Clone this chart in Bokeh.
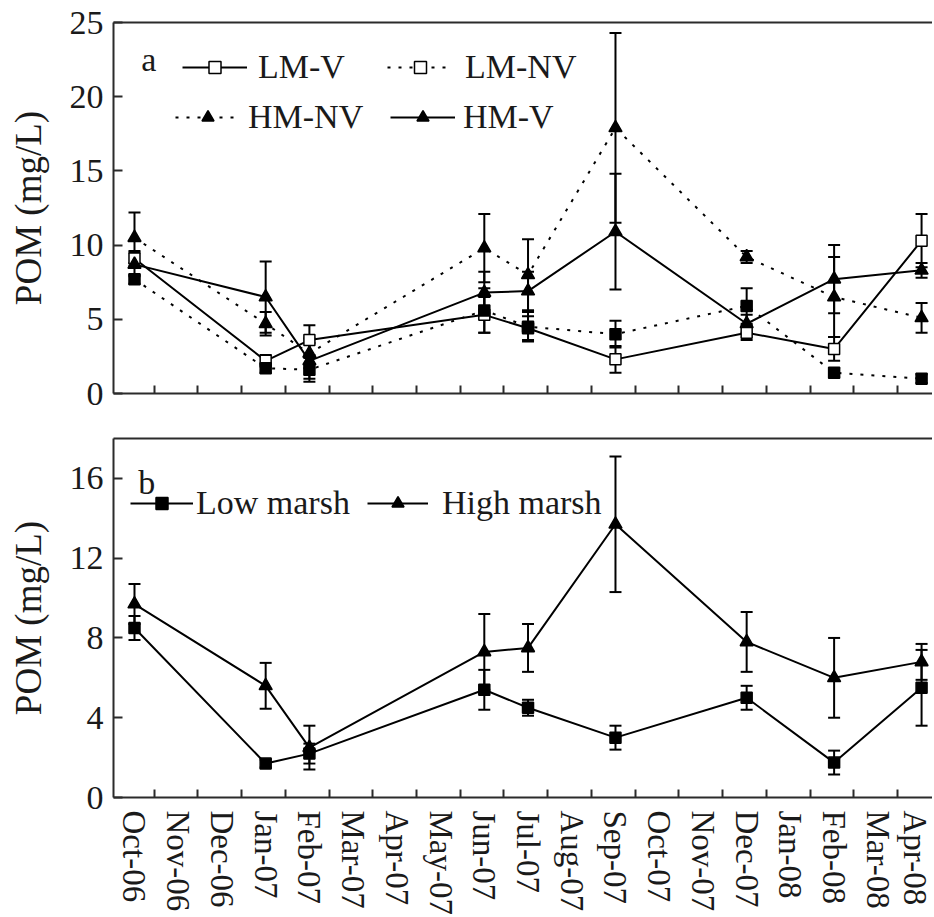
from bokeh.plotting import figure
from bokeh.models import (ColumnDataSource, Whisker, TeeHead, FixedTicker, Range1d,
                          LinearAxis, Legend, LegendItem, Label)
from bokeh.layouts import column
from bokeh.embed import file_html
from bokeh.resources import INLINE

months = ["Oct-06", "Nov-06", "Dec-06", "Jan-07", "Feb-07", "Mar-07", "Apr-07",
          "May-07", "Jun-07", "Jul-07", "Aug-07", "Sep-07", "Oct-07", "Nov-07",
          "Dec-07", "Jan-08", "Feb-08", "Mar-08", "Apr-08"]
sample_months = ["Oct-06", "Jan-07", "Feb-07", "Jun-07", "Jul-07", "Sep-07",
                 "Dec-07", "Feb-08", "Apr-08"]

# Panel a
lm_v = [9.1, 2.2, 3.6, 5.3, 4.4, 2.3, 4.1, 3.0, 10.3]
lm_v_err = [0.5, 0.4, 1.0, 1.2, 0.8, 0.9, 0.5, 0.8, 1.8]
lm_nv = [7.7, 1.7, 1.6, 5.6, 4.5, 4.0, 5.9, 1.4, 1.0]
lm_nv_err = [0.3, 0.3, 0.8, 1.5, 1.0, 0.9, 1.2, 0.3, 0.3]
hm_nv = [10.5, 4.7, 2.7, 9.8, 8.0, 17.9, 9.2, 6.5, 5.1]
hm_nv_err = [1.7, 0.8, 1.0, 2.3, 2.4, 6.4, 0.4, 2.7, 1.0]
hm_v = [8.7, 6.5, 2.2, 6.8, 6.9, 10.9, 4.7, 7.7, 8.3]
hm_v_err = [0.8, 2.4, 1.2, 1.4, 1.3, 3.9, 0.6, 2.3, 0.5]

# Panel b
low = [8.5, 1.7, 2.2, 5.4, 4.5, 3.0, 5.0, 1.75, 5.5]
low_err = [0.6, 0.2, 0.5, 1.0, 0.4, 0.6, 0.6, 0.6, 1.9]
high = [9.7, 5.6, 2.5, 7.3, 7.5, 13.7, 7.8, 6.0, 6.8]
high_err = [1.0, 1.15, 1.1, 1.9, 1.2, 3.4, 1.5, 2.0, 0.9]

yticks_a = [0, 5, 10, 15, 20, 25]
yticks_b = [0, 4, 8, 12, 16]

FONT = "Liberation Serif"
AX = "#2b2b2b"
TXT = "#1a1a1a"
xs = [months.index(m) for m in sample_months]
boundaries = [i + 0.45 for i in range(-1, len(months))]


def make_fig(height, ymax, yticks, top, bottom, show_labels):
    p = figure(width=932, height=height, output_backend="svg", toolbar_location=None,
               x_range=Range1d(-0.48, 18.25), y_range=Range1d(0, ymax),
               min_border_left=113, min_border_right=0, min_border_top=top,
               min_border_bottom=bottom, background_fill_color="white",
               border_fill_color="white")
    p.outline_line_color = None
    p.xgrid.visible = False
    p.ygrid.visible = False
    xa = p.xaxis[0]
    if show_labels:
        xa.ticker = FixedTicker(ticks=list(range(len(months))), minor_ticks=boundaries)
        xa.major_label_overrides = {i: m for i, m in enumerate(months)}
        xa.major_label_orientation = "vertical"
    else:
        xa.ticker = FixedTicker(ticks=[], minor_ticks=boundaries)
    xa.major_tick_line_color = None
    xa.minor_tick_in = 8
    xa.minor_tick_out = 0
    xa.minor_tick_line_width = 2
    xa.minor_tick_line_color = AX
    xa.axis_line_width = 2
    xa.axis_line_color = AX
    xa.major_label_text_font = FONT
    xa.major_label_text_font_size = "33px"
    xa.major_label_text_color = TXT
    xa.major_label_standoff = 7

    ya = p.yaxis[0]
    ya.ticker = FixedTicker(ticks=yticks)
    ya.major_tick_in = 9
    ya.major_tick_out = 0
    ya.major_tick_line_width = 2
    ya.major_tick_line_color = AX
    ya.minor_tick_line_color = None
    ya.axis_line_width = 2
    ya.axis_line_color = AX
    ya.major_label_text_font = FONT
    ya.major_label_text_font_size = "34px"
    ya.major_label_text_color = TXT
    ya.major_label_standoff = 10
    ya.axis_label = "POM (mg/L)"
    ya.axis_label_text_font = FONT
    ya.axis_label_text_font_size = "37px"
    ya.axis_label_text_font_style = "normal"
    ya.axis_label_text_color = TXT
    ya.axis_label_standoff = 18

    topax = LinearAxis(ticker=FixedTicker(ticks=[]), axis_line_width=2, axis_line_color=AX,
                       major_tick_line_color=None, minor_tick_line_color=None,
                       major_label_text_font_size="0px")
    p.add_layout(topax, "above")
    return p


def series(p, y, err, dash, marker, fill, size, key_marker=None):
    src = ColumnDataSource(dict(x=xs, y=y,
                                upper=[a + b for a, b in zip(y, err)],
                                lower=[a - b for a, b in zip(y, err)]))
    ln = p.line("x", "y", source=src, line_color="black", line_width=2, line_dash=dash)
    w = Whisker(source=src, base="x", upper="upper", lower="lower", line_width=2,
                line_color="black",
                upper_head=TeeHead(size=12, line_width=2, line_color="black"),
                lower_head=TeeHead(size=12, line_width=2, line_color="black"))
    p.add_layout(w)
    key = None
    if key_marker is not None:
        # open key glyph drawn underneath the (larger) filled markers
        key = p.scatter("x", "y", source=src, marker=key_marker, size=size - 2,
                        fill_color="white", line_color="black", line_width=1.5)
    sc = p.scatter("x", "y", source=src, marker=marker, size=size, fill_color=fill,
                   line_color="black", line_width=1.5)
    return ln, (key if key is not None else sc)


def add_legend(p, label, renderers, loc, standoff, gw):
    lg = Legend(items=[LegendItem(label=label, renderers=renderers)], location=loc,
                orientation="horizontal", border_line_color=None,
                background_fill_alpha=0, label_text_font=FONT,
                label_text_font_size="34px", label_text_color=TXT, glyph_width=gw,
                glyph_height=30, label_standoff=standoff, spacing=0, padding=0, margin=0)
    p.add_layout(lg, "center")


DOT = "3 8"

# ---- Panel a ----
pa = make_fig(415, 25, yticks_a, 22, 22, False)
l1, s1 = series(pa, lm_v, lm_v_err, "solid", "square", "white", 11)
l2, s2 = series(pa, lm_nv, lm_nv_err, DOT, "square", "black", 11, key_marker="square")
l3, s3 = series(pa, hm_nv, hm_nv_err, DOT, "triangle", "black", 13)
l4, s4 = series(pa, hm_v, hm_v_err, "solid", "triangle", "black", 13)

add_legend(pa, "LM-V", [l1, s1], (69, 307), 11, 65)
add_legend(pa, "LM-NV", [l2, s2], (274, 307), 12, 66)
add_legend(pa, "HM-NV", [l3, s3], (62, 257), 8, 65)
add_legend(pa, "HM-V", [l4, s4], (277, 257), 8, 65)
pa.add_layout(Label(x=0.33, y=22.5, text="a", text_font=FONT, text_font_size="34px",
                    text_align="center", text_baseline="alphabetic", text_color=TXT))

# ---- Panel b ----
pb = make_fig(502, 18, yticks_b, 23, 120, True)
l5, s5 = series(pb, low, low_err, "solid", "square", "black", 11)
l6, s6 = series(pb, high, high_err, "solid", "triangle", "black", 13)
add_legend(pb, "Low marsh", [l5, s5], (17, 275), 3, 63)
add_legend(pb, "High marsh", [l6, s6], (254, 275), 14, 61)
pb.add_layout(Label(x=0.28, y=15.8, text="b", text_font=FONT, text_font_size="34px",
                    text_align="center", text_baseline="alphabetic", text_color=TXT))

layout = column(pa, pb, spacing=0)
open("out.html", "w").write(file_html(layout, INLINE))
